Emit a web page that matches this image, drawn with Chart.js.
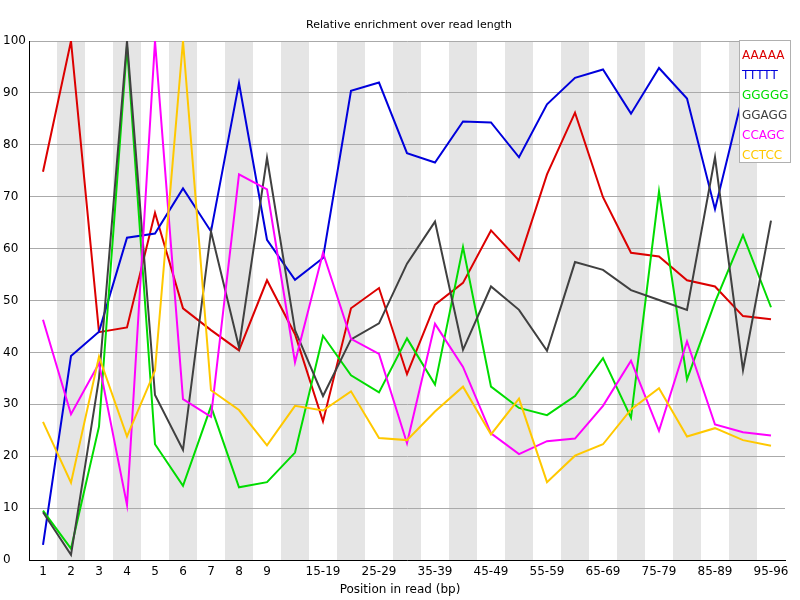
<!DOCTYPE html>
<html>
<head>
<meta charset="utf-8">
<script src="https://cdn.jsdelivr.net/npm/chart.js@4.4.1/dist/chart.umd.min.js"></script>
<style>
  html, body { margin: 0; padding: 0; background: #fff; }
  #wrap { width: 800px; height: 600px; }
</style>
</head>
<body>
<div id="wrap"><canvas id="kmerChart" width="800" height="600"></canvas></div>
<script>
// Positions along the read
const positions = ['1', '2', '3', '4', '5', '6', '7', '8', '9', '10-14', '15-19', '20-24', '25-29',
    '30-34', '35-39', '40-44', '45-49', '50-54', '55-59', '60-64', '65-69', '70-74', '75-79',
    '80-84', '85-89', '90-94', '95-96'];

// Relative enrichment per kmer
const aaaaa = [74.8, 100, 43.9, 44.8, 66.9, 48.5, 44.3, 40.4, 53.9, 43.5, 26.7, 48.5, 52.4,
    35.8, 49.2, 53.4, 63.5, 57.7, 74.3, 86.2, 69.9, 59.2, 58.5, 53.9, 52.7, 47.0, 46.4];
const ttttt = [2.9, 39.3, 44.0, 62.1, 62.9, 71.6, 63.3, 91.9, 61.7, 54.0, 58.2, 90.4, 92.0,
    78.4, 76.6, 84.5, 84.3, 77.6, 87.8, 92.9, 94.5, 86.0, 94.8, 88.9, 67.6, 89.7, 100];
const ggggg = [9.5, 2.2, 25.7, 99, 22.3, 14.3, 29.6, 14.0, 15.0, 20.7, 43.2, 35.6, 32.3,
    42.7, 33.8, 60.3, 33.4, 29.3, 27.9, 31.6, 38.9, 27.4, 71.0, 34.8, 49.7, 62.6, 48.7];
const ggagg = [9.2, 1.0, 35, 100, 31.8, 21.2, 63.3, 41.0, 77.5, 44.3, 31.6, 42.5, 45.6,
    57.1, 65.2, 40.5, 52.7, 48.2, 40.3, 57.4, 55.9, 52.0, 50.1, 48.2, 77.6, 36.6, 65.4];
const ccagc = [46.3, 28.1, 37.9, 10.6, 100, 31.0, 27.6, 74.3, 71.4, 38.1, 59.2, 42.6, 39.7,
    22.5, 45.5, 37.2, 24.4, 20.4, 22.9, 23.4, 29.7, 38.4, 24.9, 42.1, 26.1, 24.6, 24.0];
const cctcc = [26.6, 14.9, 39.2, 23.8, 36.5, 100, 32.7, 28.9, 22.1, 29.7, 28.8, 32.5, 23.5,
    23.1, 28.6, 33.4, 24.2, 31.1, 15.0, 20.1, 22.3, 29.0, 33.1, 23.8, 25.4, 23.1, 22.0];

const kmers = ['AAAAA', 'TTTTT', 'GGGGG', 'GGAGG', 'CCAGC', 'CCTCC'];
const kmerData = [aaaaa, ttttt, ggggg, ggagg, ccagc, cctcc];
const kmerColours = ['rgb(220,0,0)', 'rgb(0,0,220)', 'rgb(0,220,0)', 'rgb(64,64,64)', 'rgb(255,0,255)', 'rgb(255,200,0)'];

const FONT = 'DejaVu Sans';

// grey bands behind every other position
const stripes = {
    id: 'stripes',
    beforeDraw(chart) {
        const ctx = chart.ctx;
        const x = chart.scales.x;
        const area = chart.chartArea;
        const half = (x.getPixelForValue(1) - x.getPixelForValue(0)) / 2;
        ctx.save();
        ctx.fillStyle = '#e5e5e5';
        for (let i = 1; i < positions.length; i += 2) {
            const c = x.getPixelForValue(i);
            ctx.fillRect(c - half, area.top, half * 2, area.bottom - area.top);
        }
        ctx.restore();
    }
};

// title, x axis title and the boxed legend on top of the lines
const decorations = {
    id: 'decorations',
    afterDraw(chart) {
        const ctx = chart.ctx;
        ctx.save();
        ctx.fillStyle = '#000';
        ctx.textAlign = 'center';
        ctx.textBaseline = 'middle';
        ctx.font = '11px "' + FONT + '"';
        ctx.fillText('Relative enrichment over read length', 409, 25.5);
        ctx.font = '12px "' + FONT + '"';
        ctx.fillText('Position in read (bp)', 400, 590);

        ctx.fillStyle = '#fff';
        ctx.fillRect(739.5, 40.5, 51, 122);
        ctx.strokeStyle = '#b0b0b0';
        ctx.lineWidth = 1;
        ctx.strokeRect(739.5, 40.5, 51, 122);
        ctx.textAlign = 'left';
        kmers.forEach((k, i) => {
            ctx.fillStyle = kmerColours[i];
            ctx.fillText(k, 742, 56 + i * 20);
        });
        ctx.restore();
    }
};

new Chart(document.getElementById('kmerChart'), {
    type: 'line',
    data: {
        labels: positions,
        datasets: kmers.map((k, i) => ({
            label: k,
            data: kmerData[i],
            borderColor: kmerColours[i],
            backgroundColor: kmerColours[i],
            borderWidth: 2,
            pointRadius: 0,
            tension: 0,
            fill: false,
            order: kmers.length - i
        }))
    },
    options: {
        responsive: false,
        animation: false,
        devicePixelRatio: 1,
        layout: { padding: { top: 41, right: 15, bottom: 0, left: 3 } },
        plugins: {
            legend: { display: false },
            title: { display: false },
            tooltip: { enabled: false }
        },
        scales: {
            x: {
                offset: true,
                afterFit(scale) { scale.height = 40; },
                grid: { display: false, drawTicks: false },
                border: { display: true, color: '#000', width: 1 },
                ticks: {
                    autoSkip: false,
                    maxRotation: 0,
                    padding: 5,
                    color: '#000',
                    font: { family: FONT, size: 12 },
                    callback: function(value, index) {
                        if (index < 9 || (index - 9) % 2 === 1) return positions[index];
                        return '';
                    }
                }
            },
            y: {
                min: 0,
                max: 100,
                afterFit(scale) { scale.width = 26; },
                grid: { color: '#aaaaaa', lineWidth: 1, drawTicks: false },
                border: { display: true, color: '#000', width: 1 },
                ticks: {
                    stepSize: 10,
                    padding: 3,
                    crossAlign: 'far',
                    color: '#000',
                    font: { family: FONT, size: 12 }
                }
            }
        }
    },
    plugins: [stripes, decorations]
});
</script>
</body>
</html>
